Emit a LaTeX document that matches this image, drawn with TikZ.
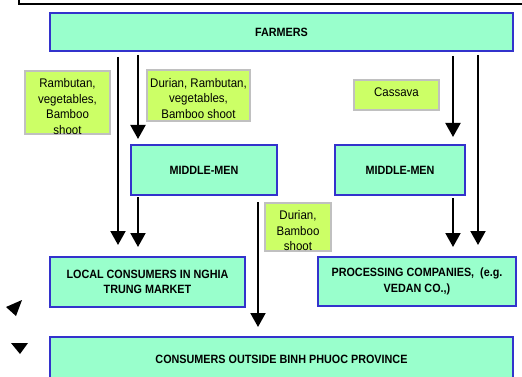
\documentclass[tikz,border=0pt]{standalone}
\usepackage{fontspec}
\setmainfont{Liberation Sans}
\newfontfamily\boxfont[FakeStretch=0.9]{Liberation Sans}
\newfontfamily\labfont[FakeStretch=0.92]{Liberation Sans}
\usetikzlibrary{arrows.meta}
\definecolor{mint}{HTML}{99FFCC}
\definecolor{boxblue}{HTML}{3333CC}
\definecolor{labfill}{HTML}{CCFF66}
\definecolor{labgray}{HTML}{C0C0C0}
\begin{document}
\begin{tikzpicture}[x=1pt,y=-1pt,
  actor/.style={draw=boxblue, fill=mint, line width=2pt, inner sep=0pt,
    align=center, font=\boxfont\bfseries\fontsize{12}{15.5}\selectfont},
  lab/.style={draw=labgray, fill=labfill, line width=2pt, inner sep=0pt},
  labtext/.style={align=center, inner sep=0pt, font=\labfont\fontsize{12.5}{15.5}\selectfont},
  flow/.style={line width=2pt, -{Triangle[length=14pt,width=15pt]}},
  stray/.style={fill=black, draw=none}]
\useasboundingbox (0,0) rectangle (522,377);
\begin{scope}
\clip (0,0) rectangle (522,377);
% partially visible title frame
\draw[line width=2pt] (18.5,-40) rectangle (560,4);
% actors
\node[actor, minimum width=463, minimum height=38] (farmers) at (281.5,32) {FARMERS};
\node[actor, minimum width=146, minimum height=50] (mmL) at (204,170) {MIDDLE-MEN};
\node[actor, minimum width=130, minimum height=50] (mmR) at (400,170) {MIDDLE-MEN};
\node[actor, minimum width=195, minimum height=50] (local) at (147.5,282) {LOCAL CONSUMERS IN NGHIA\\TRUNG MARKET};
\node[actor, minimum width=198, minimum height=49] (proc) at (417,281.5) {PROCESSING COMPANIES,~ (e.g.\\VEDAN CO.,)};
\node[actor, minimum width=463, minimum height=44] (outside) at (281.5,359) {CONSUMERS OUTSIDE BINH PHUOC PROVINCE};
% product labels
\node[lab, minimum width=85, minimum height=63] (l1) at (67.5,102.5) {};
\node[labtext] (t1) at (67.5,106.5) {Rambutan,\\vegetables,\\Bamboo\\shoot};
\node[lab, minimum width=103, minimum height=51] (l2) at (198.5,95.5) {};
\node[labtext] (t2) at (198.5,98.5) {Durian, Rambutan,\\vegetables,\\Bamboo shoot};
\node[lab, minimum width=85, minimum height=30] (l3) at (396.5,95) {};
\node[labtext] (t3) at (396.5,92.5) {Cassava};
\node[lab, minimum width=66, minimum height=48] (l4) at (298,227) {};
\node[labtext] (t4) at (298,231) {Durian,\\Bamboo\\shoot};
% flows
\draw[flow, shorten <=5pt, shorten >=11pt] (118,0 |- farmers.south) -- (118,0 |- local.north);
\draw[flow, shorten <=3pt, shorten >=5pt] (138,0 |- farmers.south) -- (138,0 |- mmL.north);
\draw[flow, shorten <=1pt, shorten >=9pt] (138,0 |- mmL.south) -- (138,0 |- local.north);
\draw[flow, shorten <=6pt, shorten >=9pt] (258,0 |- mmL.south) -- (258,0 |- outside.north);
\draw[flow, shorten <=4pt, shorten >=7pt] (453,0 |- farmers.south) -- (453,0 |- mmR.north);
\draw[flow, shorten <=2pt, shorten >=9pt] (453,0 |- mmR.south) -- (453,0 |- proc.north);
\draw[flow, shorten <=3pt, shorten >=11pt] (478,0 |- farmers.south) -- (478,0 |- proc.north);
% stray arrow heads
\fill[stray] (6,307) -- (22,300) -- (16,316) -- cycle;
\fill[stray] (11,343) -- (28,343) -- (20,354) -- cycle;
\end{scope}
\end{tikzpicture}
\end{document}
